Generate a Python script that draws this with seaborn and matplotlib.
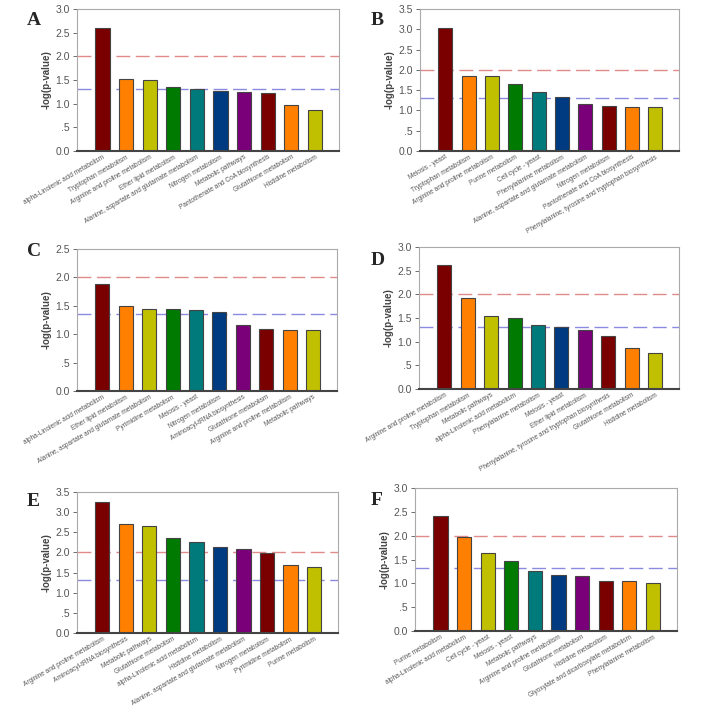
import matplotlib
matplotlib.use("Agg")
import matplotlib.pyplot as plt
import seaborn as sns
import pandas as pd
from matplotlib.ticker import FuncFormatter, MultipleLocator

sns.set_style("white")
plt.rcParams['font.family'] = ['Liberation Sans', 'DejaVu Sans']

# ---------------- data ----------------
letters = ["A", "B", "C", "D", "E", "F"]

labels_A = ["alpha-Linolenic acid metabolism", "Tryptophan metabolism", "Arginine and proline metabolism",
            "Ether lipid metabolism", "Alanine, aspartate and glutamate metabolism", "Nitrogen metabolism",
            "Metabolic pathways", "Pantothenate and CoA biosynthesis", "Glutathione metabolism",
            "Histidine metabolism"]
values_A = [2.60, 1.52, 1.51, 1.36, 1.32, 1.26, 1.24, 1.23, 0.97, 0.87]

labels_B = ["Meiosis - yeast", "Tryptophan metabolism", "Arginine and proline metabolism", "Purine metabolism",
            "Cell cycle - yeast", "Phenylalanine metabolism", "Alanine, aspartate and glutamate metabolism",
            "Nitrogen metabolism", "Pantothenate and CoA biosynthesis",
            "Phenylalanine, tyrosine and tryptophan biosynthesis"]
values_B = [3.03, 1.86, 1.84, 1.65, 1.46, 1.33, 1.17, 1.11, 1.09, 1.09]

labels_C = ["alpha-Linolenic acid metabolism", "Ether lipid metabolism",
            "Alanine, aspartate and glutamate metabolism", "Pyrimidine metabolism", "Meiosis - yeast",
            "Nitrogen metabolism", "Aminoacyl-tRNA biosynthesis", "Glutathione metabolism",
            "Arginine and proline metabolism", "Metabolic pathways"]
values_C = [1.88, 1.49, 1.45, 1.44, 1.43, 1.39, 1.17, 1.09, 1.08, 1.07]

labels_D = ["Arginine and proline metabolism", "Tryptophan metabolism", "Metabolic pathways",
            "alpha-Linolenic acid metabolism", "Phenylalanine metabolism", "Meiosis - yeast",
            "Ether lipid metabolism", "Phenylalanine, tyrosine and tryptophan biosynthesis",
            "Glutathione metabolism", "Histidine metabolism"]
values_D = [2.61, 1.93, 1.54, 1.51, 1.36, 1.31, 1.24, 1.11, 0.86, 0.76]

labels_E = ["Arginine and proline metabolism", "Aminoacyl-tRNA biosynthesis", "Metabolic pathways",
            "Glutathione metabolism", "alpha-Linolenic acid metabolism", "Histidine metabolism",
            "Alanine, aspartate and glutamate metabolism", "Nitrogen metabolism", "Pyrimidine metabolism",
            "Purine metabolism"]
values_E = [3.25, 2.70, 2.65, 2.36, 2.27, 2.13, 2.08, 1.98, 1.69, 1.63]

labels_F = ["Purine metabolism", "alpha-Linolenic acid metabolism", "Cell cycle - yeast", "Meiosis - yeast",
            "Metabolic pathways", "Arginine and proline metabolism", "Glutathione metabolism",
            "Histidine metabolism", "Glyoxylate and dicarboxylate metabolism", "Phenylalanine metabolism"]
values_F = [2.42, 1.98, 1.63, 1.46, 1.26, 1.17, 1.15, 1.04, 1.04, 1.01]

y_max = [3.0, 3.5, 2.5, 3.0, 3.5, 3.0]
red_line = [2.0, 2.0, 2.0, 2.0, 2.0, 2.0]
blue_line = [1.32, 1.31, 1.35, 1.31, 1.32, 1.33]

bar_colors = ["#7a0000", "#ff8000", "#c0c000", "#007a00", "#007a7a", "#003a80", "#7a007a",
              "#7a0000", "#ff8000", "#c0c000"]

all_labels = [labels_A, labels_B, labels_C, labels_D, labels_E, labels_F]
all_values = [values_A, values_B, values_C, values_D, values_E, values_F]

# axes boxes in pixels: left, right, top, bottom
boxes = [(77, 339, 9, 151), (420, 679, 9, 151),
         (77, 337, 249, 391), (419, 679, 247, 389),
         (77, 338, 492, 633), (415, 677, 488, 631)]
letter_pos = [(27, 12), (371, 12), (27, 243), (371, 252), (27, 493), (371, 492)]

W, H = 708, 713
fig = plt.figure(figsize=(W / 100, H / 100), dpi=100)

def fmt(v, _):
    if abs(v - 0.5) < 1e-9:
        return ".5"
    return f"{v:.1f}"

for i in range(6):
    l, r, t, b = boxes[i]
    ax = fig.add_axes([l / W, 1 - b / H, (r - l) / W, (b - t) / H])
    df = pd.DataFrame({"pathway": all_labels[i], "value": all_values[i]})
    sns.barplot(data=df, x="pathway", y="value", hue="pathway", palette=bar_colors,
                legend=False, width=0.6, edgecolor="#444444", linewidth=0.8, ax=ax,
                saturation=1)
    ax.set_xlim(-1.08, 10.02)
    ax.set_ylim(0, y_max[i])
    ax.axhline(red_line[i], color="#e08a8a", ls=(0, (10, 4)), lw=1.0, zorder=0.5)
    ax.axhline(blue_line[i], color="#8a8ae0", ls=(0, (10, 4)), lw=1.0, zorder=0.5)
    ax.yaxis.set_major_locator(MultipleLocator(0.5))
    ax.yaxis.set_major_formatter(FuncFormatter(fmt))
    ax.tick_params(axis="y", which="major", direction="out", length=3, width=0.6,
                   labelsize=7.5, colors="#555555", pad=2, left=True)
    ax.tick_params(axis="x", length=0, pad=2)
    ax.set_xticks(range(10))
    ax.set_xticklabels(all_labels[i], rotation=30, ha="right", rotation_mode="anchor",
                       fontsize=4.7, color="#555555")
    ax.set_xlabel("")
    ax.set_ylabel("-log(p-value)", fontsize=7, fontweight="bold", color="#444444", labelpad=3)
    for s in ["top", "right", "left"]:
        ax.spines[s].set_color("#aaaaaa")
        ax.spines[s].set_linewidth(0.8)
    ax.spines["bottom"].set_color("#444444")
    ax.spines["bottom"].set_linewidth(1.5)
    lx, ly = letter_pos[i]
    fig.text(lx / W, 1 - ly / H, letters[i], fontsize=14, fontweight="bold",
             family=["Liberation Serif", "DejaVu Serif"], va="top", ha="left")

fig.savefig("out.png", dpi=100, facecolor="white")
